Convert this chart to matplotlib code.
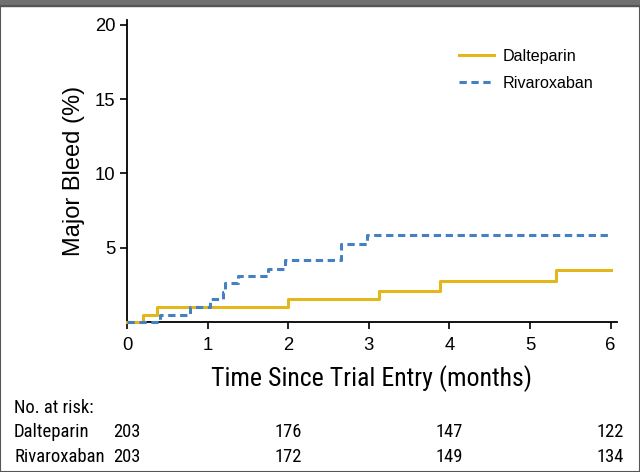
import matplotlib
matplotlib.use('Agg')
import matplotlib.pyplot as plt
import matplotlib.transforms as mtransforms
from matplotlib.patches import Rectangle

# step curves (months, cumulative major bleed %)
dalteparin_t = [0, 0.2, 0.37, 2.0, 3.13, 3.88, 5.32, 6.0]
dalteparin_y = [0, 0.49, 0.99, 1.53, 2.12, 2.75, 3.47, 3.47]
rivaroxaban_t = [0, 0.41, 0.78, 1.03, 1.19, 1.22, 1.38, 1.75, 1.96, 2.66, 2.98, 6.0]
rivaroxaban_y = [0, 0.5, 1.02, 1.52, 2.05, 2.6, 3.08, 3.6, 4.15, 5.25, 5.85, 5.85]

risk_times = [0, 2, 4, 6]
risk_dalteparin = [203, 176, 147, 122]
risk_rivaroxaban = [203, 172, 149, 134]

gold = '#E3B71B'
blue = '#4580C2'
narrow = ['Roboto Condensed', 'DejaVu Sans']
plt.rcParams['font.family'] = ['Liberation Sans', 'DejaVu Sans']

fig = plt.figure(figsize=(6.4, 4.72), dpi=100)
ax = fig.add_axes([0.1984, 0.3178, 0.7656, 0.6388])

ax.step(dalteparin_t, dalteparin_y, where='post', color=gold, lw=2.2,
        label='Dalteparin', zorder=3, clip_on=False)
ax.step(rivaroxaban_t, rivaroxaban_y, where='post', color=blue, lw=2.2,
        ls=(0, (2.4, 1.5)), label='Rivaroxaban', zorder=4, clip_on=False)

ax.set_xlim(0, 6.08)
ax.set_ylim(0, 20.3)
ax.set_xticks(range(0, 7))
ax.set_yticks([5, 10, 15, 20])
ax.spines['top'].set_visible(False)
ax.spines['right'].set_visible(False)
ax.spines['left'].set_linewidth(1.3)
ax.spines['bottom'].set_linewidth(1.3)
ax.tick_params(direction='out', length=5, width=1.2, labelsize=13.3)
ax.tick_params(axis='x', pad=6)

ax.set_ylabel('Major Bleed (%)', fontsize=17, labelpad=7)
ax.set_xlabel('Time Since Trial Entry (months)', fontsize=18.6, family=narrow,
              labelpad=8)

leg = ax.legend(loc='upper right', bbox_to_anchor=(0.951, 0.905), frameon=False,
                fontsize=11.6, handlelength=2.2, handletextpad=0.5,
                labelspacing=0.72, borderaxespad=0, borderpad=0)

# number at risk table
tr = mtransforms.blended_transform_factory(ax.transData, fig.transFigure)
fig.text(14 / 640, 1 - 408 / 472, 'No. at risk:', fontsize=13.3, family=narrow,
         va='center')
rows = [('Dalteparin', risk_dalteparin, 432), ('Rivaroxaban', risk_rivaroxaban, 457)]
for name, counts, ypx in rows:
    fig.text(14 / 640, 1 - ypx / 472, name, fontsize=13.5, family=narrow,
             va='center')
    for t, n in zip(risk_times, counts):
        ax.text(t, 1 - ypx / 472, str(n), transform=tr, fontsize=13.3,
                family=narrow, ha='center', va='center')

# page frame like the screenshot
fig.patches.append(Rectangle((0, 1 - 6 / 472), 1, 6 / 472, transform=fig.transFigure,
                             color='#707070', zorder=0))
fig.patches.append(Rectangle((0, 0), 1, 1 - 6 / 472, transform=fig.transFigure,
                             fill=False, ec='#555555', lw=1.5, zorder=0))

fig.savefig('out.png', dpi=100)
